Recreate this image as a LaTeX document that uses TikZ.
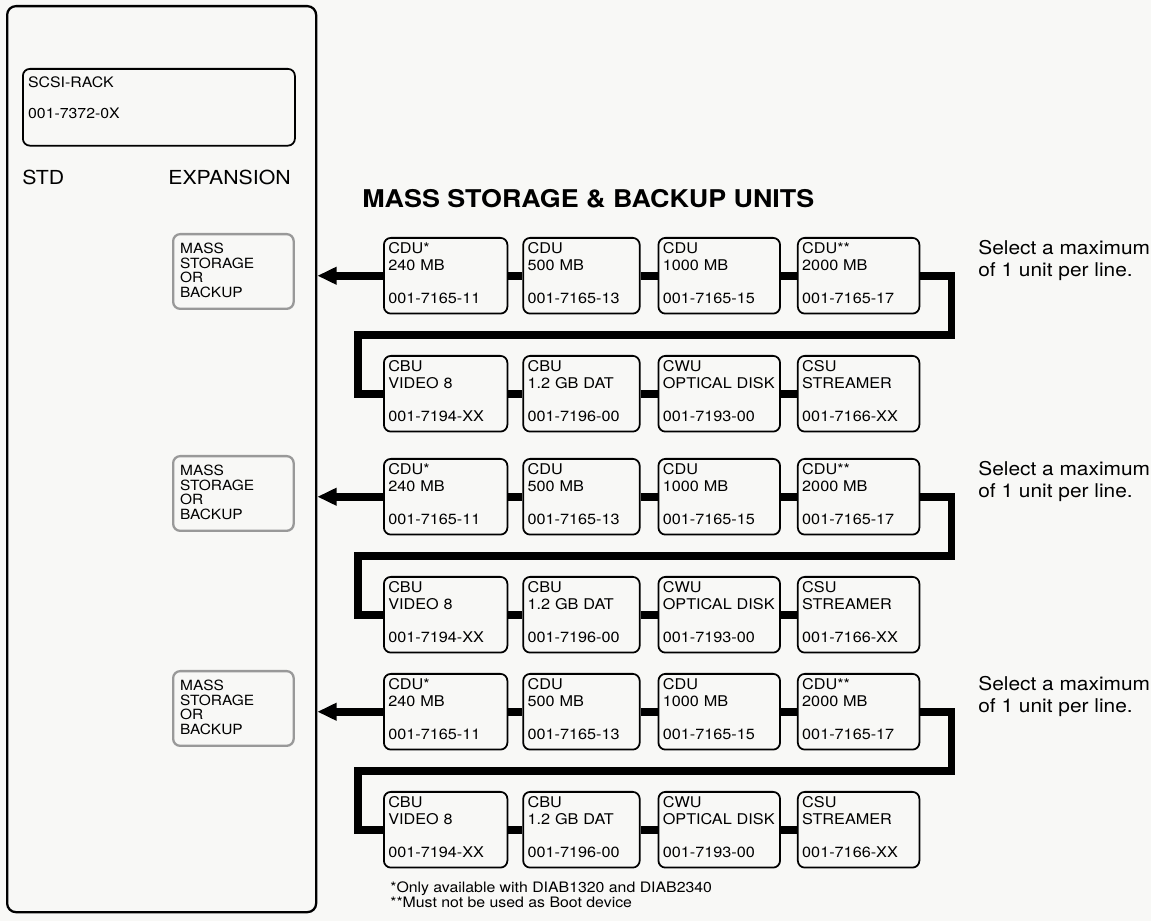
\documentclass[tikz,border=0pt]{standalone}
\usepackage{fontspec}
\setmainfont[FakeStretch=1.1]{TeX Gyre Heros}
\usetikzlibrary{positioning, arrows.meta, calc}
\definecolor{paper}{RGB}{248,248,246}

\begin{document}
\begin{tikzpicture}[
    x=0.2mm, y=-0.2mm,
    rackframe/.style={
        draw=black, line width=1.3pt, rounded corners=5pt,
        anchor=north west, inner sep=0pt
    },
    rackpart/.style={
        draw=black, line width=1pt, rounded corners=4pt,
        align=left, anchor=north west, font=\fontsize{8.2}{10}\selectfont,
        inner xsep=3pt, inner ysep=0pt, text width=148.8pt,
        text height=10.8pt, text depth=32.9pt
    },
    slotbox/.style={
        draw=black!40, line width=1.3pt, rounded corners=4pt,
        align=left, anchor=north west, font=\fontsize{8}{8.5}\selectfont,
        inner xsep=4pt, inner ysep=0pt, text width=60.6pt,
        text height=10.8pt, text depth=31.7pt
    },
    unitbox/.style={
        draw=black, line width=1pt, rounded corners=4pt,
        align=left, font=\fontsize{8.4}{9.6}\selectfont,
        inner xsep=2.5pt, inner ysep=0pt, text width=#1,
        text height=9.1pt, text depth=34pt
    },
    headtext/.style={
        anchor=base west, inner sep=0pt, font=\fontsize{11}{12}\selectfont
    },
    hinttext/.style={
        anchor=north west, inner sep=0pt, align=left,
        font=\fontsize{10.8}{12.5}\selectfont
    },
    link/.style={line width=4.3pt},
    feed/.style={
        -{Triangle[length=11pt, width=9.5pt]}, line width=4.8pt
    }
]

\fill[paper] (0,0) rectangle (1151,921);
\useasboundingbox (0,0) rectangle (1151,921);

% --- Rack ---
\node[rackframe, minimum width=61.8mm, minimum height=181.2mm] (rack) at (6,5) {};
\node[rackpart] (scsi) at (22,68) {SCSI-RACK\\[7.6pt]001-7372-0X};
\node[headtext] (std) at (22,185) {STD};
\node[headtext] (exp) at (168,185) {EXPANSION};

\node[slotbox] (m1) at (172,233) {MASS\\STORAGE\\OR\\BACKUP};
\node[slotbox] (m2) at (172,455) {MASS\\STORAGE\\OR\\BACKUP};
\node[slotbox] (m3) at (172,670) {MASS\\STORAGE\\OR\\BACKUP};

\node[anchor=base west, inner sep=0pt, font=\bfseries\fontsize{13.9}{15}\selectfont]
    (title) at (362,208) {MASS STORAGE \& BACKUP UNITS};

% --- Group 1 ---
\node[unitbox=65.3pt, anchor=north west] (a1) at (383,237) {CDU*\\240 MB\\[9.1pt]001-7165-11};
\node[unitbox=61.3pt, right=2.8mm of a1] (b1) {CDU\\500 MB\\[9.1pt]001-7165-13};
\node[unitbox=64.2pt, right=3.4mm of b1] (c1) {CDU\\1000 MB\\[9.1pt]001-7165-15};
\node[unitbox=64.2pt, right=3.2mm of c1] (d1) {CDU**\\2000 MB\\[9.1pt]001-7165-17};

\node[unitbox=65.3pt, anchor=north west] (e1) at (383,355) {CBU\\VIDEO 8\\[9.1pt]001-7194-XX};
\node[unitbox=61.3pt, right=2.8mm of e1] (f1) {CBU\\1.2 GB DAT\\[9.1pt]001-7196-00};
\node[unitbox=64.2pt, right=3.4mm of f1] (g1) {CWU\\OPTICAL DISK\\[9.1pt]001-7193-00};
\node[unitbox=64.2pt, right=3.2mm of g1] (h1) {CSU\\STREAMER\\[9.1pt]001-7166-XX};

\node[hinttext] (sel1) at (978,240) {Select a maximum\\of 1 unit per line.};

% --- Group 2 ---
\node[unitbox=65.3pt, anchor=north west] (a2) at (383,458) {CDU*\\240 MB\\[9.1pt]001-7165-11};
\node[unitbox=61.3pt, right=2.8mm of a2] (b2) {CDU\\500 MB\\[9.1pt]001-7165-13};
\node[unitbox=64.2pt, right=3.4mm of b2] (c2) {CDU\\1000 MB\\[9.1pt]001-7165-15};
\node[unitbox=64.2pt, right=3.2mm of c2] (d2) {CDU**\\2000 MB\\[9.1pt]001-7165-17};

\node[unitbox=65.3pt, anchor=north west] (e2) at (383,576) {CBU\\VIDEO 8\\[9.1pt]001-7194-XX};
\node[unitbox=61.3pt, right=2.8mm of e2] (f2) {CBU\\1.2 GB DAT\\[9.1pt]001-7196-00};
\node[unitbox=64.2pt, right=3.4mm of f2] (g2) {CWU\\OPTICAL DISK\\[9.1pt]001-7193-00};
\node[unitbox=64.2pt, right=3.2mm of g2] (h2) {CSU\\STREAMER\\[9.1pt]001-7166-XX};

\node[hinttext] (sel2) at (978,461) {Select a maximum\\of 1 unit per line.};

% --- Group 3 ---
\node[unitbox=65.3pt, anchor=north west] (a3) at (383,673) {CDU*\\240 MB\\[9.1pt]001-7165-11};
\node[unitbox=61.3pt, right=2.8mm of a3] (b3) {CDU\\500 MB\\[9.1pt]001-7165-13};
\node[unitbox=64.2pt, right=3.4mm of b3] (c3) {CDU\\1000 MB\\[9.1pt]001-7165-15};
\node[unitbox=64.2pt, right=3.2mm of c3] (d3) {CDU**\\2000 MB\\[9.1pt]001-7165-17};

\node[unitbox=65.3pt, anchor=north west] (e3) at (383,791) {CBU\\VIDEO 8\\[9.1pt]001-7194-XX};
\node[unitbox=61.3pt, right=2.8mm of e3] (f3) {CBU\\1.2 GB DAT\\[9.1pt]001-7196-00};
\node[unitbox=64.2pt, right=3.4mm of f3] (g3) {CWU\\OPTICAL DISK\\[9.1pt]001-7193-00};
\node[unitbox=64.2pt, right=3.2mm of g3] (h3) {CSU\\STREAMER\\[9.1pt]001-7166-XX};

\node[hinttext] (sel3) at (978,676) {Select a maximum\\of 1 unit per line.};

% Footnotes
\node[anchor=north west, inner sep=0pt, align=left, font=\fontsize{8.2}{7.4}\selectfont]
    (notes) at (390,881) {*Only available with DIAB1320 and DIAB2340\\**Must not be used as Boot device};

% --- Chains ---
\foreach \g in {1,2,3} {
    \draw[link] (a\g) -- (b\g);
    \draw[link] (b\g) -- (c\g);
    \draw[link] (c\g) -- (d\g);
    \draw[link] (d\g.east) -- ++(6.2mm,0) |- ($(d\g.south)!0.5!(h\g.north)$)
        -| ([xshift=-5mm]e\g.west) -- (e\g.west);
    \draw[link] (e\g) -- (f\g);
    \draw[link] (f\g) -- (g\g);
    \draw[link] (g\g) -- (h\g);
    \draw[feed] (a\g.west) -- (a\g.west -| rack.east);
}

\end{tikzpicture}
\end{document}
